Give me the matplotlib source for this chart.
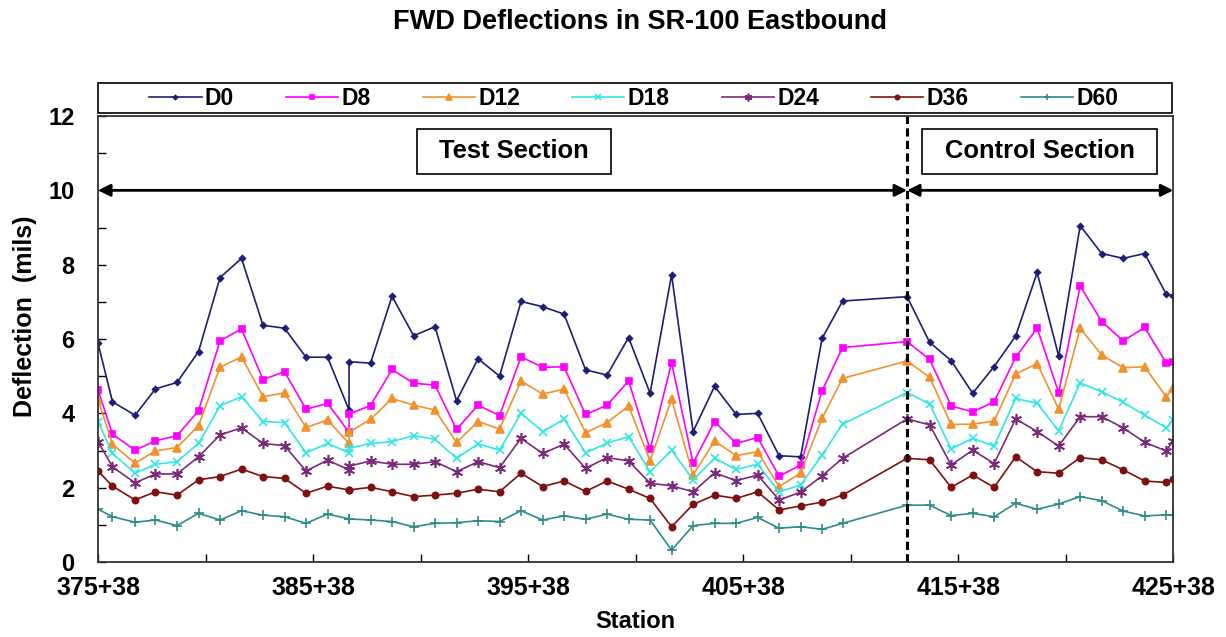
import matplotlib
matplotlib.use("Agg")
import matplotlib.pyplot as plt
from matplotlib.ticker import FixedLocator, FuncFormatter
from matplotlib.patches import Rectangle

plt.rcParams["font.family"] = ["Liberation Sans", "DejaVu Sans"]
plt.rcParams["font.weight"] = "bold"

# station in feet (375+38 -> 37538)
stations = [37538, 37605, 37710, 37805, 37905, 38005, 38105, 38205, 38305, 38405,
            38505, 38605, 38705, 38705, 38805, 38905, 39005, 39105, 39205, 39305,
            39405, 39505, 39605, 39705, 39805, 39905, 40005, 40105, 40205, 40305,
            40405, 40505, 40605, 40705, 40805, 40905, 41000, 41300, 41405, 41505,
            41605, 41705, 41805, 41905, 42005, 42105, 42205, 42305, 42405, 42505, 42538]

d0 = [5.88, 4.31, 3.95, 4.66, 4.83, 5.66, 7.65, 8.17, 6.37, 6.29,
      5.51, 5.51, 4.09, 5.39, 5.35, 7.15, 6.09, 6.33, 4.34, 5.47,
      5.00, 7.01, 6.87, 6.67, 5.17, 5.03, 6.04, 4.54, 7.73, 3.51,
      4.73, 3.97, 4.00, 2.86, 2.83, 6.02, 7.02, 7.14, 5.91, 5.42,
      4.54, 5.26, 6.08, 7.79, 5.54, 9.05, 8.30, 8.17, 8.30, 7.21, 7.17]
d8 = [4.63, 3.44, 3.01, 3.26, 3.40, 4.07, 5.95, 6.27, 4.91, 5.12,
      4.11, 4.27, 3.49, 3.98, 4.21, 5.18, 4.81, 4.76, 3.57, 4.22,
      3.94, 5.52, 5.24, 5.25, 3.97, 4.22, 4.87, 3.03, 5.36, 2.66,
      3.78, 3.19, 3.35, 2.31, 2.61, 4.61, 5.77, 5.93, 5.45, 4.20,
      4.04, 4.31, 5.51, 6.29, 4.56, 7.43, 6.47, 5.95, 6.31, 5.36, 5.37]
d12 = [4.36, 3.17, 2.66, 2.99, 3.08, 3.67, 5.24, 5.52, 4.45, 4.55,
       3.62, 3.82, 3.19, 3.49, 3.84, 4.40, 4.22, 4.09, 3.22, 3.78,
       3.58, 4.87, 4.52, 4.65, 3.48, 3.75, 4.20, 2.72, 4.38, 2.34,
       3.26, 2.86, 2.97, 2.03, 2.39, 3.87, 4.94, 5.41, 4.97, 3.70,
       3.71, 3.79, 5.06, 5.34, 4.11, 6.29, 5.57, 5.23, 5.25, 4.45, 4.67]
d18 = [3.78, 2.92, 2.39, 2.63, 2.70, 3.19, 4.20, 4.45, 3.78, 3.75,
       2.94, 3.19, 2.94, 3.06, 3.19, 3.24, 3.40, 3.30, 2.79, 3.18,
       3.01, 4.00, 3.51, 3.84, 2.94, 3.20, 3.37, 2.43, 3.01, 2.21,
       2.79, 2.49, 2.63, 1.89, 2.07, 2.88, 3.71, 4.56, 4.25, 3.04,
       3.33, 3.12, 4.40, 4.27, 3.53, 4.82, 4.58, 4.30, 3.95, 3.61, 3.82]
d24 = [3.24, 2.56, 2.13, 2.37, 2.37, 2.83, 3.42, 3.61, 3.19, 3.13,
       2.45, 2.74, 2.48, 2.58, 2.72, 2.63, 2.63, 2.70, 2.43, 2.70,
       2.54, 3.33, 2.92, 3.17, 2.52, 2.81, 2.72, 2.12, 2.05, 1.89,
       2.40, 2.19, 2.34, 1.67, 1.88, 2.32, 2.79, 3.85, 3.69, 2.61,
       3.01, 2.65, 3.85, 3.51, 3.12, 3.91, 3.91, 3.61, 3.22, 2.99, 3.26]
d36 = [2.45, 2.04, 1.67, 1.89, 1.80, 2.21, 2.30, 2.50, 2.30, 2.25,
       1.85, 2.04, 1.94, 1.94, 2.01, 1.89, 1.76, 1.80, 1.85, 1.96,
       1.89, 2.39, 2.03, 2.18, 1.90, 2.18, 1.96, 1.71, 0.95, 1.55,
       1.80, 1.71, 1.89, 1.40, 1.51, 1.61, 1.80, 2.79, 2.75, 2.01,
       2.34, 2.01, 2.83, 2.43, 2.39, 2.81, 2.75, 2.48, 2.18, 2.14, 2.23]
d60 = [1.42, 1.22, 1.07, 1.13, 0.98, 1.31, 1.13, 1.38, 1.26, 1.22,
       1.04, 1.29, 1.16, 1.16, 1.13, 1.09, 0.95, 1.04, 1.06, 1.11,
       1.09, 1.38, 1.13, 1.24, 1.15, 1.29, 1.15, 1.13, 0.32, 0.98,
       1.04, 1.04, 1.20, 0.91, 0.95, 0.88, 1.04, 1.53, 1.53, 1.25,
       1.31, 1.22, 1.58, 1.42, 1.56, 1.76, 1.65, 1.37, 1.24, 1.27, 1.27]

labels = ["D0", "D8", "D12", "D18", "D24", "D36", "D60"]
series = [d0, d8, d12, d18, d24, d36, d60]

colors = ["#1c1f73", "#ff00ff", "#f0922d", "#33e6e6", "#7a2a7a", "#7f1010", "#2e8b8b"]
markers = ["D", "s", "^", "x", (6, 2, 0), "o", "+"]
msizes = [3, 5, 5.5, 6, 8, 4.5, 7]

x_start, x_end = 37538, 42538
split = 41300

fig = plt.figure(figsize=(12.26, 6.37), dpi=100)
ax = fig.add_axes([0.080, 0.1177, 0.877, 0.7002])

for y, lab, c, m, ms in zip(series, labels, colors, markers, msizes):
    ax.plot(stations, y, color=c, marker=m, markersize=ms, lw=1.2, label=lab,
            markeredgewidth=1.2)

ax.set_xlim(x_start, x_end)
ax.set_ylim(0, 12)
ax.xaxis.set_major_locator(FixedLocator(list(range(x_start, x_end + 1, 1000))))
ax.xaxis.set_minor_locator(FixedLocator(list(range(x_start + 500, x_end, 1000))))
ax.yaxis.set_major_locator(FixedLocator(list(range(0, 13, 2))))
ax.yaxis.set_minor_locator(FixedLocator(list(range(1, 12, 2))))
ax.xaxis.set_major_formatter(FuncFormatter(lambda v, p: "%d+%02d" % (int(v) // 100, int(v) % 100)))
ax.tick_params(which="both", direction="in", length=6, width=1)
ax.tick_params(axis="x", labelsize=18, pad=10)
ax.tick_params(axis="y", labelsize=17, pad=17)
for s in ax.spines.values():
    s.set_linewidth(1.3)
    s.set_color("#333333")

ax.set_xlabel("Station", fontsize=17, fontweight="bold")
ax.xaxis.set_label_coords(0.5, -0.108)
ax.set_ylabel("Deflection  (mils)", fontsize=18, fontweight="bold")
ax.yaxis.set_label_coords(-0.057, 0.55)
fig.text(0.522, 0.9655, "FWD Deflections in SR-100 Eastbound", fontsize=19.5,
         fontweight="bold", ha="center", va="center")

# section divider and arrows
ax.axvline(split, color="black", lw=2.2, dashes=(2.7, 1.4))
arr = dict(arrowstyle="<|-|>", color="black", lw=2, mutation_scale=18, shrinkA=0, shrinkB=0)
ax.annotate("", xy=(x_start, 10), xytext=(split, 10), arrowprops=arr)
ax.annotate("", xy=(split, 10), xytext=(x_end, 10), arrowprops=arr)

# section label boxes
for (x0, x1, txt) in [(0.2967, 0.4772, "Test Section"), (0.7665, 0.9851, "Control Section")]:
    ax.add_patch(Rectangle((x0, 0.870), x1 - x0, 0.101, transform=ax.transAxes,
                           fill=False, edgecolor="black", lw=1.2))
    ax.text((x0 + x1) / 2, 0.9205, txt, transform=ax.transAxes, ha="center", va="center",
            fontsize=18.4, fontweight="bold")

# legend: entries centred, frame spanning the plot width
leg = fig.legend(*ax.get_legend_handles_labels(), loc="center", bbox_to_anchor=(0.517, 0.846),
                 ncol=7, frameon=False, fontsize=16.5, handlelength=2.27, handletextpad=0.15,
                 columnspacing=2.27, markerscale=0.7)
for t in leg.get_texts():
    t.set_fontweight("bold")
fig.patches.append(Rectangle((0.0799, 0.8226), 0.876, 0.0471, transform=fig.transFigure,
                             fill=False, edgecolor="black", lw=1.2))

fig.savefig("out.png", dpi=100)
